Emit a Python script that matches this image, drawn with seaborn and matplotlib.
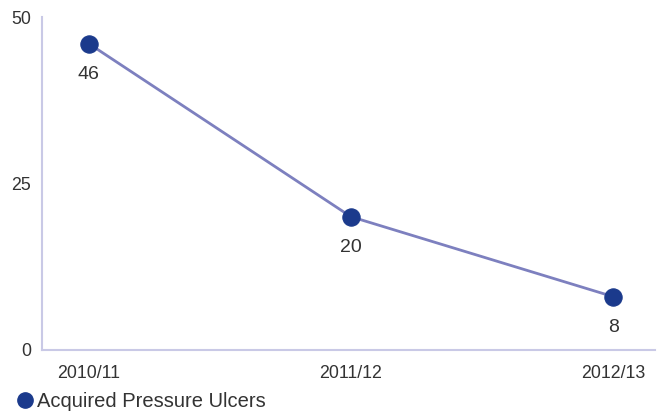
import matplotlib
matplotlib.use("Agg")
import matplotlib.pyplot as plt
from matplotlib.lines import Line2D
import seaborn as sns
import pandas as pd

years = ["2010/11", "2011/12", "2012/13"]
ulcers = [46, 20, 8]
series_name = "Acquired Pressure Ulcers"
y_ticks = [0, 25, 50]

line_color = "#7d80bf"
dot_color = "#1b3a8c"
axis_color = "#c9c9e6"
text_color = "#333333"

sns.set_theme(style="white")
plt.rcParams["font.family"] = ["Liberation Sans", "DejaVu Sans"]

df = pd.DataFrame({"year": years, "count": ulcers})
df["pos"] = range(len(years))

fig = plt.figure(figsize=(6.61, 4.16), dpi=100)
ax = fig.add_axes([0.0635, 0.159, 0.9275, 0.8])

sns.lineplot(data=df, x="pos", y="count", ax=ax, color=line_color, linewidth=2,
             marker="o", markersize=12.5, markerfacecolor=dot_color,
             markeredgecolor=dot_color, legend=False)

for x, v in zip(df["pos"], df["count"]):
    ax.annotate(str(v), (x, v), xytext=(0, -22), textcoords="offset points",
                ha="center", va="center", fontsize=14, color=text_color)

ax.set_xlim(-0.179, 2.16)
ax.set_ylim(0, 50)
ax.set_xticks(df["pos"])
ax.set_xticklabels(years)
ax.set_yticks(y_ticks)
ax.set_xlabel("")
ax.set_ylabel("")
ax.tick_params(axis="both", length=0, labelsize=12.8, colors=text_color)
ax.tick_params(axis="x", pad=11)
ax.tick_params(axis="y", pad=8)

for side in ["top", "right"]:
    ax.spines[side].set_visible(False)
for side in ["left", "bottom"]:
    ax.spines[side].set_color(axis_color)
    ax.spines[side].set_linewidth(1.5)

handle = Line2D([], [], linestyle="none", marker="o", markersize=11,
                markerfacecolor=dot_color, markeredgecolor=dot_color)
fig.legend([handle], [series_name], loc="lower left", bbox_to_anchor=(0.01, -0.008),
           frameon=False, fontsize=14.5, handletextpad=0.1, handlelength=1.0,
           borderaxespad=0, labelcolor=text_color)

fig.savefig("out.png", dpi=100)
